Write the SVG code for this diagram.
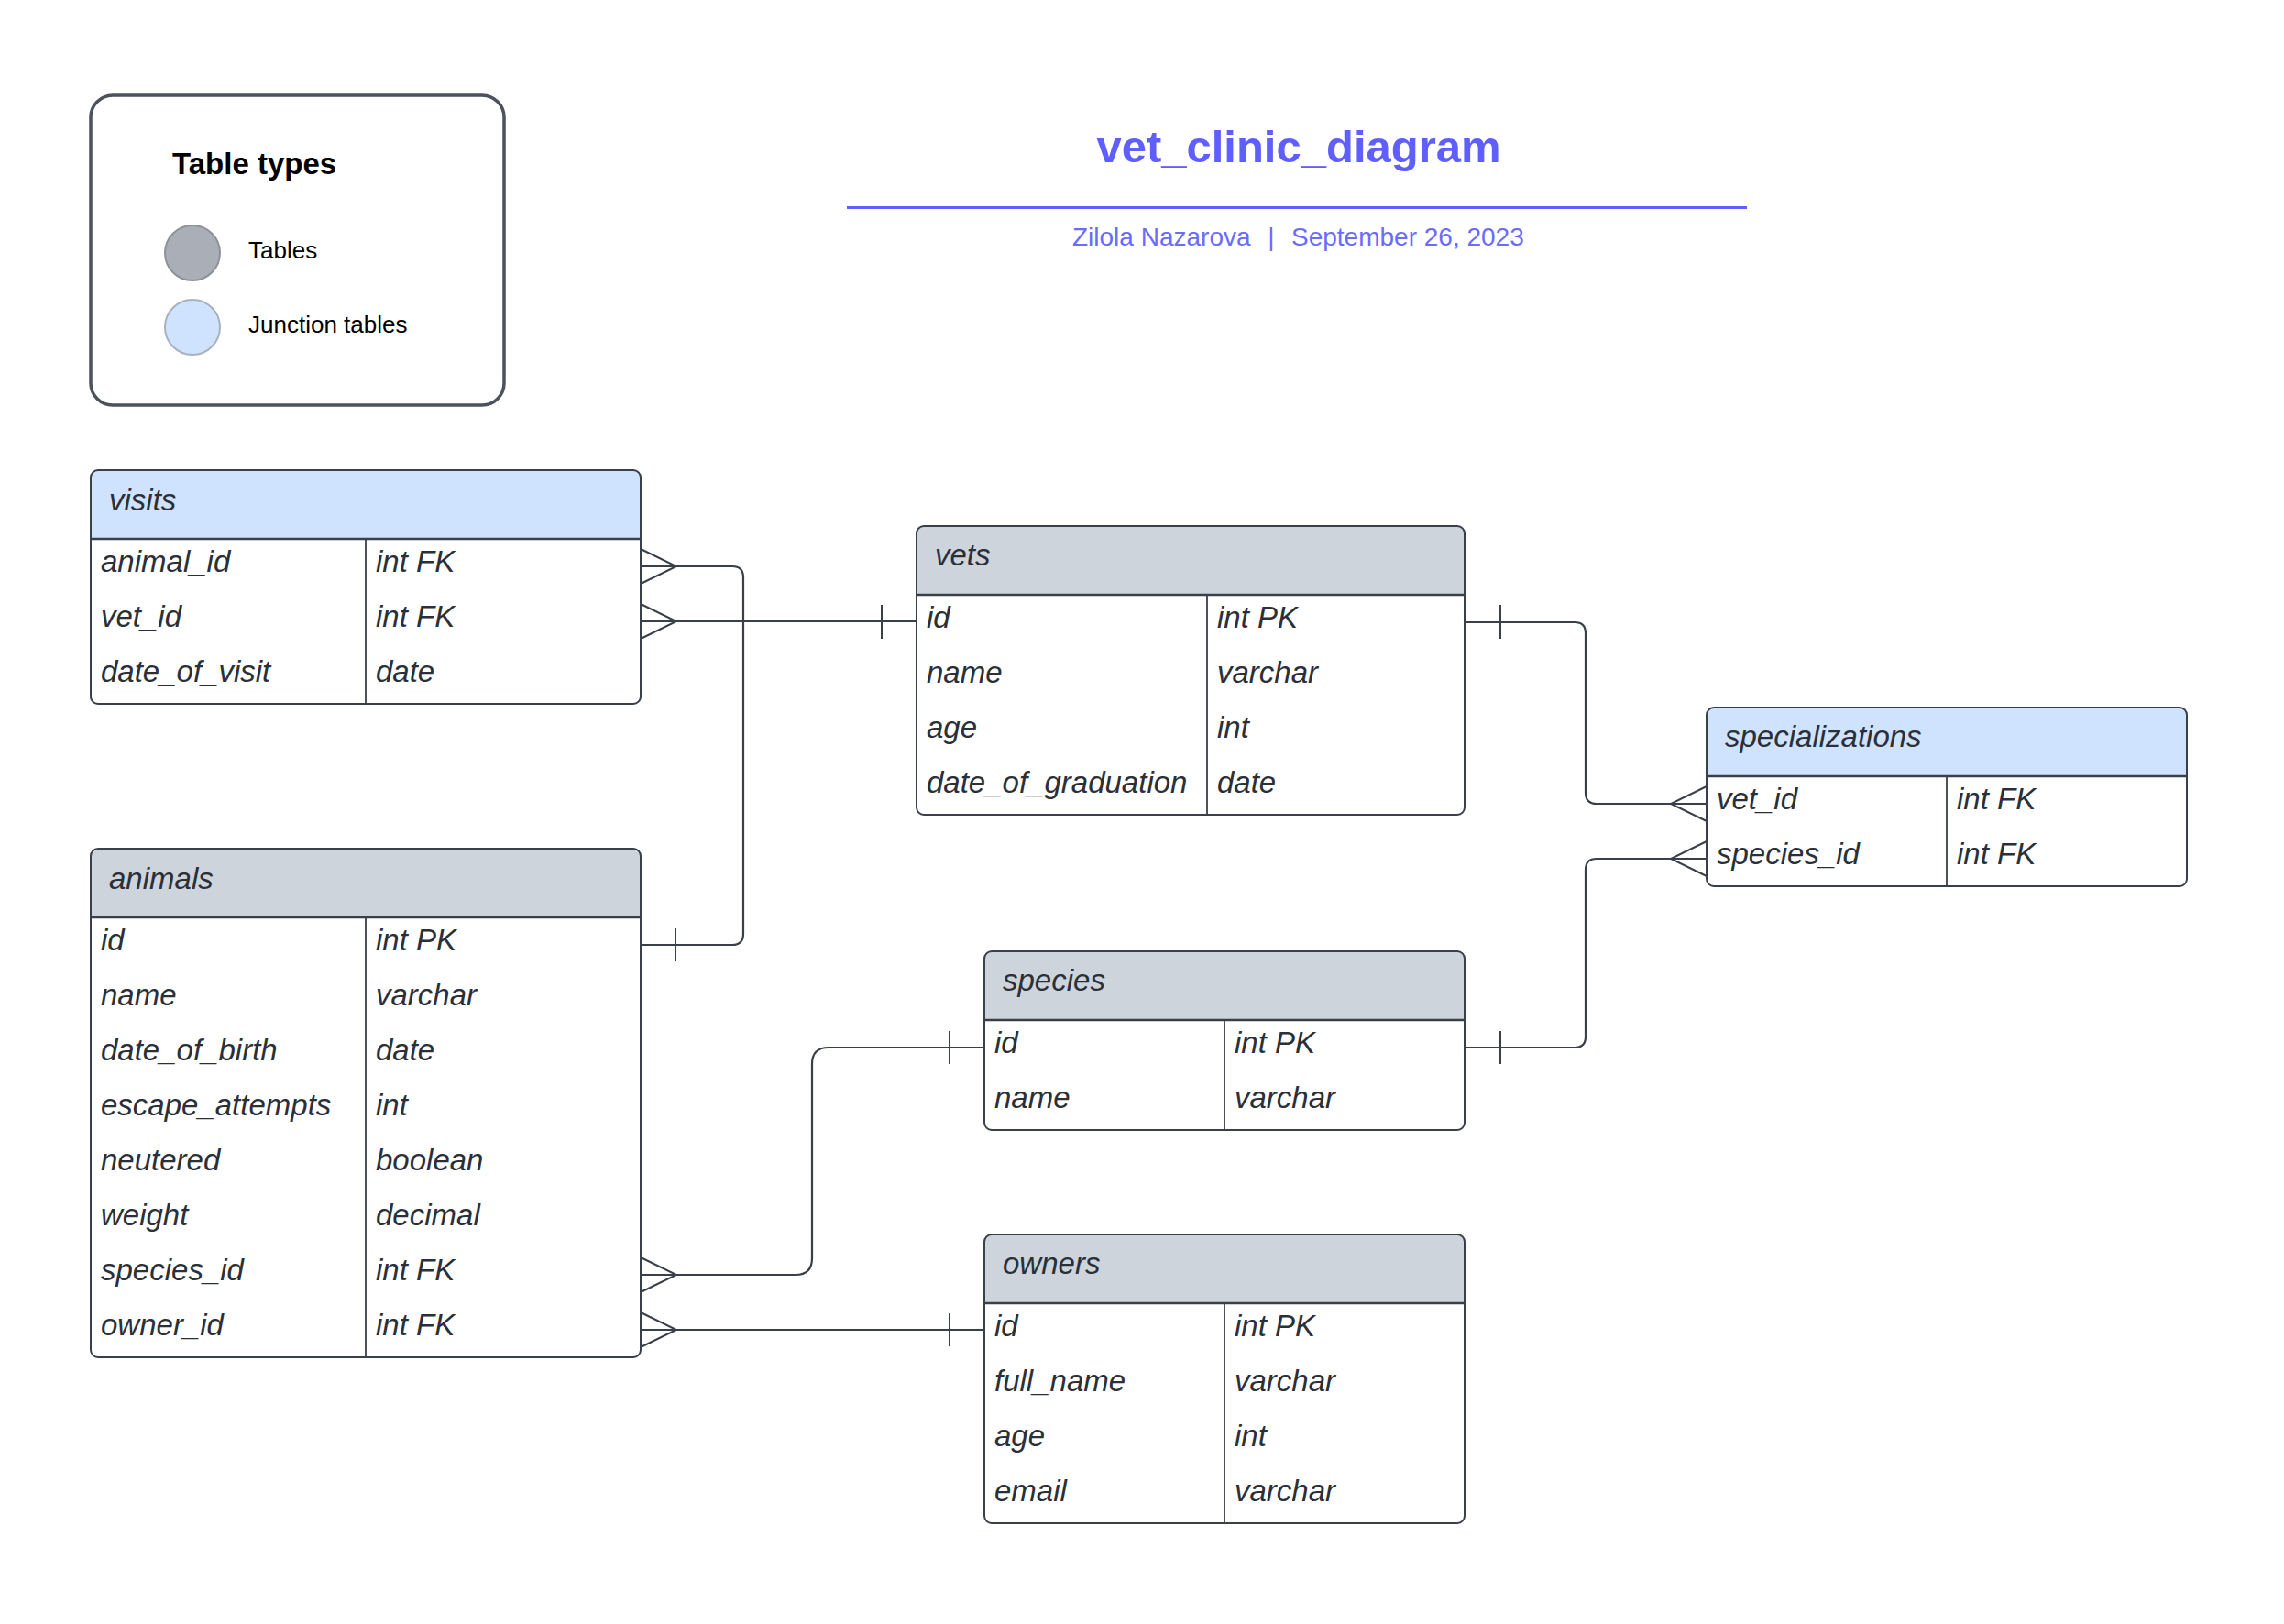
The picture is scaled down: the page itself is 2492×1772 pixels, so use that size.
<svg xmlns="http://www.w3.org/2000/svg" width="2492" height="1772" viewBox="0 0 2492 1772">
<style>
.bg{fill:#ffffff}
.tbl{fill:none;stroke:#3a4049;stroke-width:2}
.body{fill:#ffffff}
.hdr{fill:#ced4dc}
.jhdr{fill:#cfe3ff}
.sep{stroke:#3a4049;stroke-width:2.5}
.div{stroke:#3a4049;stroke-width:1.8}
.t{font-family:"Liberation Sans",Arial,sans-serif;font-style:italic;font-size:33px;fill:#2b3038}
.conn{fill:none;stroke:#3a4049;stroke-width:2.2}
.mk{fill:none;stroke:#3a4049;stroke-width:2}
.lg{font-family:"Liberation Sans",Arial,sans-serif;fill:#000000}
</style>
<rect class="bg" x="0" y="0" width="2492" height="1772"/>

<g id="legend">
<rect x="99" y="104" width="451" height="338" rx="24" fill="#ffffff" stroke="#4b525c" stroke-width="3.5"/>
<text class="lg" x="188" y="190" font-size="33" font-weight="bold">Table types</text>
<circle cx="210" cy="276" r="30" fill="#a9aeb7" stroke="#8c919a" stroke-width="2"/>
<text class="lg" x="271" y="282" font-size="26">Tables</text>
<circle cx="210" cy="357" r="30" fill="#cfe3ff" stroke="#a9b1bd" stroke-width="2"/>
<text class="lg" x="271" y="363" font-size="26">Junction tables</text>
</g>

<g id="title">
<text x="1417" y="177" text-anchor="middle" font-family="Liberation Sans,Arial,sans-serif" font-weight="bold" font-size="49" fill="#5f5fff">vet_clinic_diagram</text>
<line x1="924" y1="226.5" x2="1906" y2="226.5" stroke="#5f5fff" stroke-width="3"/>
<text x="1170" y="268" font-family="Liberation Sans,Arial,sans-serif" font-size="28" fill="#6b6bff">Zilola Nazarova</text>
<text x="1387" y="268" text-anchor="middle" font-family="Liberation Sans,Arial,sans-serif" font-size="28" fill="#6b6bff">|</text>
<text x="1409" y="268" font-family="Liberation Sans,Arial,sans-serif" font-size="28" fill="#6b6bff">September 26, 2023</text>
</g>

<g id="connectors">
<!-- visits.animal_id -> animals.id -->
<path class="conn" d="M699 618 H799 Q811 618 811 630 V1019 Q811 1031 799 1031 H699"/>
<path class="mk" d="M699 599 L738 618 L699 637"/>
<line class="mk" x1="737" y1="1013" x2="737" y2="1049"/>
<!-- visits.vet_id -> vets.id -->
<path class="conn" d="M699 678 H1000"/>
<path class="mk" d="M699 659 L738 678 L699 697"/>
<line class="mk" x1="962" y1="660" x2="962" y2="697"/>
<!-- vets.id -> specializations.vet_id -->
<path class="conn" d="M1598 679 H1718 Q1730 679 1730 691 V865 Q1730 877 1742 877 H1862"/>
<line class="mk" x1="1637" y1="660" x2="1637" y2="697"/>
<path class="mk" d="M1862 858 L1823 877 L1862 896"/>
<!-- species.id -> specializations.species_id -->
<path class="conn" d="M1598 1143 H1718 Q1730 1143 1730 1131 V949 Q1730 937 1742 937 H1862"/>
<line class="mk" x1="1637" y1="1125" x2="1637" y2="1161"/>
<path class="mk" d="M1862 918 L1823 937 L1862 956"/>
<!-- animals.species_id -> species.id -->
<path class="conn" d="M699 1391 H868 Q886 1391 886 1373 V1161 Q886 1143 904 1143 H1074"/>
<path class="mk" d="M699 1372 L738 1391 L699 1410"/>
<line class="mk" x1="1036" y1="1125" x2="1036" y2="1161"/>
<!-- animals.owner_id -> owners.id -->
<path class="conn" d="M699 1451 H1074"/>
<path class="mk" d="M699 1432 L738 1451 L699 1470"/>
<line class="mk" x1="1036" y1="1433" x2="1036" y2="1469"/>
</g>

<g id="visits">
<rect class="body" x="99" y="513" width="600" height="255" rx="8"/>
<path class="jhdr" d="M99 588 V521 Q99 513 107 513 H691 Q699 513 699 521 V588 Z"/>
<line class="sep" x1="99" y1="588" x2="699" y2="588"/>
<line class="div" x1="399" y1="588" x2="399" y2="768"/>
<rect class="tbl" x="99" y="513" width="600" height="255" rx="8"/>
<text class="t" x="119" y="557">visits</text>
<text class="t" x="110" y="624">animal_id</text><text class="t" x="410" y="624">int FK</text>
<text class="t" x="110" y="684">vet_id</text><text class="t" x="410" y="684">int FK</text>
<text class="t" x="110" y="744">date_of_visit</text><text class="t" x="410" y="744">date</text>
</g>

<g id="animals">
<rect class="body" x="99" y="926" width="600" height="555" rx="8"/>
<path class="hdr" d="M99 1001 V934 Q99 926 107 926 H691 Q699 926 699 934 V1001 Z"/>
<line class="sep" x1="99" y1="1001" x2="699" y2="1001"/>
<line class="div" x1="399" y1="1001" x2="399" y2="1481"/>
<rect class="tbl" x="99" y="926" width="600" height="555" rx="8"/>
<text class="t" x="119" y="970">animals</text>
<text class="t" x="110" y="1037">id</text><text class="t" x="410" y="1037">int PK</text>
<text class="t" x="110" y="1097">name</text><text class="t" x="410" y="1097">varchar</text>
<text class="t" x="110" y="1157">date_of_birth</text><text class="t" x="410" y="1157">date</text>
<text class="t" x="110" y="1217">escape_attempts</text><text class="t" x="410" y="1217">int</text>
<text class="t" x="110" y="1277">neutered</text><text class="t" x="410" y="1277">boolean</text>
<text class="t" x="110" y="1337">weight</text><text class="t" x="410" y="1337">decimal</text>
<text class="t" x="110" y="1397">species_id</text><text class="t" x="410" y="1397">int FK</text>
<text class="t" x="110" y="1457">owner_id</text><text class="t" x="410" y="1457">int FK</text>
</g>

<g id="vets">
<rect class="body" x="1000" y="574" width="598" height="315" rx="8"/>
<path class="hdr" d="M1000 649 V582 Q1000 574 1008 574 H1590 Q1598 574 1598 582 V649 Z"/>
<line class="sep" x1="1000" y1="649" x2="1598" y2="649"/>
<line class="div" x1="1317" y1="649" x2="1317" y2="889"/>
<rect class="tbl" x="1000" y="574" width="598" height="315" rx="8"/>
<text class="t" x="1020" y="617">vets</text>
<text class="t" x="1011" y="685">id</text><text class="t" x="1328" y="685">int PK</text>
<text class="t" x="1011" y="745">name</text><text class="t" x="1328" y="745">varchar</text>
<text class="t" x="1011" y="805">age</text><text class="t" x="1328" y="805">int</text>
<text class="t" x="1011" y="865">date_of_graduation</text><text class="t" x="1328" y="865">date</text>
</g>

<g id="specializations">
<rect class="body" x="1862" y="772" width="524" height="195" rx="8"/>
<path class="jhdr" d="M1862 847 V780 Q1862 772 1870 772 H2378 Q2386 772 2386 780 V847 Z"/>
<line class="sep" x1="1862" y1="847" x2="2386" y2="847"/>
<line class="div" x1="2124" y1="847" x2="2124" y2="967"/>
<rect class="tbl" x="1862" y="772" width="524" height="195" rx="8"/>
<text class="t" x="1882" y="815">specializations</text>
<text class="t" x="1873" y="883">vet_id</text><text class="t" x="2135" y="883">int FK</text>
<text class="t" x="1873" y="943">species_id</text><text class="t" x="2135" y="943">int FK</text>
</g>

<g id="species">
<rect class="body" x="1074" y="1038" width="524" height="195" rx="8"/>
<path class="hdr" d="M1074 1113 V1046 Q1074 1038 1082 1038 H1590 Q1598 1038 1598 1046 V1113 Z"/>
<line class="sep" x1="1074" y1="1113" x2="1598" y2="1113"/>
<line class="div" x1="1336" y1="1113" x2="1336" y2="1233"/>
<rect class="tbl" x="1074" y="1038" width="524" height="195" rx="8"/>
<text class="t" x="1094" y="1081">species</text>
<text class="t" x="1085" y="1149">id</text><text class="t" x="1347" y="1149">int PK</text>
<text class="t" x="1085" y="1209">name</text><text class="t" x="1347" y="1209">varchar</text>
</g>

<g id="owners">
<rect class="body" x="1074" y="1347" width="524" height="315" rx="8"/>
<path class="hdr" d="M1074 1422 V1355 Q1074 1347 1082 1347 H1590 Q1598 1347 1598 1355 V1422 Z"/>
<line class="sep" x1="1074" y1="1422" x2="1598" y2="1422"/>
<line class="div" x1="1336" y1="1422" x2="1336" y2="1662"/>
<rect class="tbl" x="1074" y="1347" width="524" height="315" rx="8"/>
<text class="t" x="1094" y="1390">owners</text>
<text class="t" x="1085" y="1458">id</text><text class="t" x="1347" y="1458">int PK</text>
<text class="t" x="1085" y="1518">full_name</text><text class="t" x="1347" y="1518">varchar</text>
<text class="t" x="1085" y="1578">age</text><text class="t" x="1347" y="1578">int</text>
<text class="t" x="1085" y="1638">email</text><text class="t" x="1347" y="1638">varchar</text>
</g>
</svg>
